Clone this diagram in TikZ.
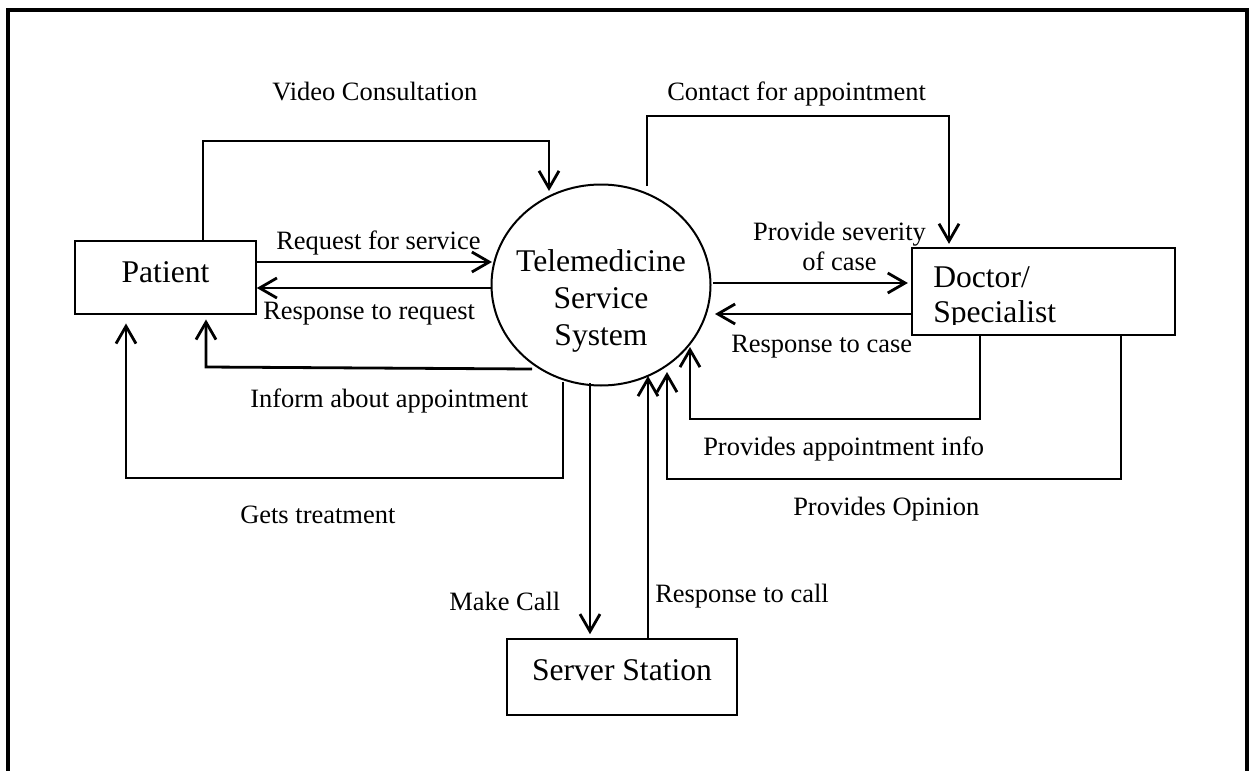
\documentclass[tikz,border=0pt]{standalone}
\usepackage{fontspec}
\setmainfont{Liberation Serif}
\usetikzlibrary{arrows.meta,shapes.geometric}
\begin{document}
\begin{tikzpicture}[x=0.75pt,y=-0.75pt,
  conn/.style={line width=2.1pt, -{Straight Barb[length=13pt,width=15pt,line width=2.1pt]}},
  box/.style={draw, line width=1.2pt, rectangle, inner sep=0pt},
  big/.style={font=\fontsize{23.7pt}{27.75pt}\selectfont, inner sep=0pt},
  lbl/.style={font=\fontsize{19.85pt}{24pt}\selectfont, inner sep=0pt, anchor=base west}]
\useasboundingbox (0,0) rectangle (1253,771);
% outer frame (open at the bottom)
\draw[line width=2.6pt] (8,771) -- (8,10) -- (1247,10) -- (1247,771);

% nodes
\node[box, minimum width=135.75pt, minimum height=54.75pt] (patient) at (165.5,277.5) {};
\node[big, anchor=base] (patienttext) at (165.5,282) {Patient};

\node[draw, ellipse, line width=1.5pt, minimum width=164.25pt, minimum height=150.75pt, inner sep=0pt] (tms) at (601,285) {};
\node[big, anchor=north, align=center] (tmstext) at (601,249.5) {Telemedicine\\Service\\System};

\node[box, minimum width=197.25pt, minimum height=65.25pt] (doctor) at (1043.5,291.5) {};
\begin{scope}
\clip (912,248) rectangle (1175,324);
\node[big, anchor=north west, align=left, font=\fontsize{23.7pt}{26.25pt}\selectfont] (doctortext) at (933,266) {Doctor/\\Specialist};
\end{scope}

\node[box, minimum width=172.5pt, minimum height=57pt] (server) at (622,677) {};
\node[big, anchor=base] (servertext) at (622,680) {Server Station};

% coordinates
\coordinate (vc1) at (203,141);
\coordinate (vc2) at (549,141);
\coordinate (vcend) at (549,191);
\coordinate (ca0) at (647,186);
\coordinate (ca1) at (647,116);
\coordinate (ca2) at (949,116);
\coordinate (rq) at (492,262);
\coordinate (rs) at (492,288);
\coordinate (ia0) at (532,369);
\coordinate (ia1) at (206,367);
\coordinate (gt0) at (563,382);
\coordinate (gt1) at (563,478);
\coordinate (gt2) at (126,478);
\coordinate (sv) at (713,283);
\coordinate (rc) at (715,314);
\coordinate (ai1) at (980,419);
\coordinate (ai2) at (690,419);
\coordinate (ai3) at (690,347);
\coordinate (op1) at (1121,479);
\coordinate (op2) at (667,479);
\coordinate (op3) at (667,372);
\coordinate (mc0) at (590,383);
\coordinate (rcl) at (648,376);

% connectors
\draw[conn] (vc1 |- patient.north) -- (vc1) -- (vc2) -- (vcend);
\draw[conn, shorten >=2.5pt] (ca0) -- (ca1) -- (ca2) -- (ca2 |- doctor.north);
\draw[conn] (rq -| patient.east) -- (rq);
\draw[conn] (rs) -- (rs -| patient.east);
\draw[conn, shorten >=3.5pt] (ia0) -- (ia1) -- (ia1 |- patient.south);
\draw[conn, shorten >=6.5pt] (gt0) -- (gt1) -- (gt2) -- (gt2 |- patient.south);
\draw[conn, shorten >=2.5pt] (sv) -- (sv -| doctor.west);
\draw[conn] (rc -| doctor.west) -- (rc);
\draw[conn] (ai1 |- doctor.south) -- (ai1) -- (ai2) -- (ai3);
\draw[conn] (op1 |- doctor.south) -- (op1) -- (op2) -- (op3);
\draw[conn, shorten >=3pt] (mc0) -- (mc0 |- server.north);
\draw[conn] (rcl |- server.north) -- (rcl);

% labels
\node[lbl] (lvideo) at (272,100) {Video Consultation};
\node[lbl] (lcontact) at (667,100) {Contact for appointment};
\node[lbl] (lreq) at (276,249) {Request for service};
\node[lbl] (lresp) at (263,319) {Response to request};
\node[lbl] (linform) at (250,407) {Inform about appointment};
\node[lbl] (ltreat) at (240,523) {Gets treatment};
\node[lbl, anchor=north, align=center, font=\fontsize{19.85pt}{22.5pt}\selectfont] (lsev) at (839.5,222) {Provide severity\\of case};
\node[lbl] (lrcase) at (731,352) {Response to case};
\node[lbl] (lappt) at (703,455) {Provides appointment info};
\node[lbl] (lopin) at (793,515) {Provides Opinion};
\node[lbl] (lmake) at (449,610) {Make Call};
\node[lbl] (lrcall) at (655,602) {Response to call};
\end{tikzpicture}
\end{document}
